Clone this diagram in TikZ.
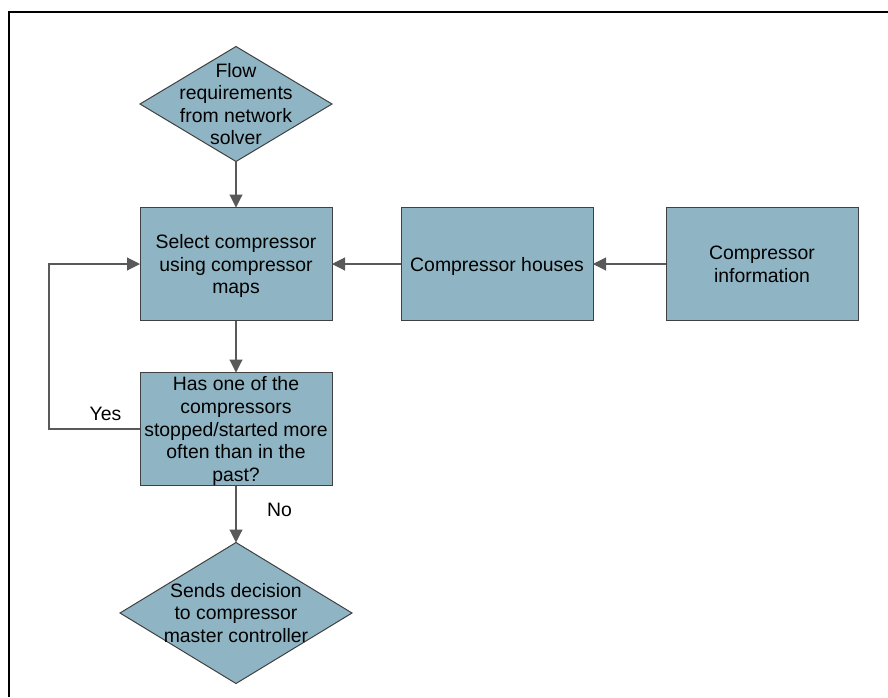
\documentclass[tikz,border=0pt]{standalone}
\usepackage{fontspec}
\setmainfont{Liberation Sans}
\usepackage{tikz}
\usetikzlibrary{shapes.geometric}
\usetikzlibrary{arrows.meta}
\definecolor{boxfill}{RGB}{143,181,196}
\definecolor{boxline}{RGB}{64,64,64}
\definecolor{wire}{RGB}{89,89,89}
\newcommand{\boxwidth}{96pt}
\newcommand{\boxheight}{56.5pt}
\tikzstyle{block}=[draw=boxline, fill=boxfill, line width=0.5pt, inner sep=0, outer sep=0,
                   minimum width=\boxwidth, minimum height=\boxheight, align=center, text depth=0pt]
\tikzstyle{decision}=[block, diamond, aspect=1.67]
\tikzstyle{wireto}=[draw=wire, line width=0.55pt, -{Triangle[length=6.5pt, width=6.5pt]}]
\tikzstyle{flowchart}=[x=0.5pt, y=-0.5pt,
                       % Arial-sized text everywhere.
                       every node/.style={font=\fontsize{9.7}{11.3}\selectfont, text=black},
                       every label/.style={align=center}]

\begin{document}
\begin{tikzpicture}[flowchart]
        \useasboundingbox (0, 0) rectangle (888, 697);
        \draw[line width=0.9pt] (8.8, 697) -- (8.8, 12.2) -- (888, 12.2);
        \node[decision, minimum width=96pt, minimum height=57.5pt,
              label=center:{Flow\\requirements\\from network\\solver}] (flow) at (236, 104) {};
        \node[block] (select) at (236, 264) {Select compressor\\using compressor\\maps};
        \node[block] (houses) at (497, 264) {Compressor houses};
        \node[block] (info) at (762, 264) {Compressor\\information};
        \node[block] (stopped) at (236, 429) {Has one of the\\compressors\\stopped/started more\\often than in the\\past?};
        \node[decision, minimum width=116pt, minimum height=70.5pt,
              label=center:{Sends decision\\to compressor\\master controller}] (sends) at (236, 613) {};
        \draw[wireto] (flow.south) -- (select.north);
        \draw[wireto] (info.west) -- (houses.east);
        \draw[wireto] (houses.west) -- (select.east);
        \draw[wireto] (select.south) -- (stopped.north);
        \draw[wireto] (stopped.south) -- node[right, xshift=12pt, yshift=2pt] (no) {No} (sends.north);
        \draw[wireto] (stopped.west) -- ++(-91, 0) node[pos=0.38, above, yshift=0.5pt] (yes) {Yes} |- (select.west);
    \end{tikzpicture}
\end{document}
